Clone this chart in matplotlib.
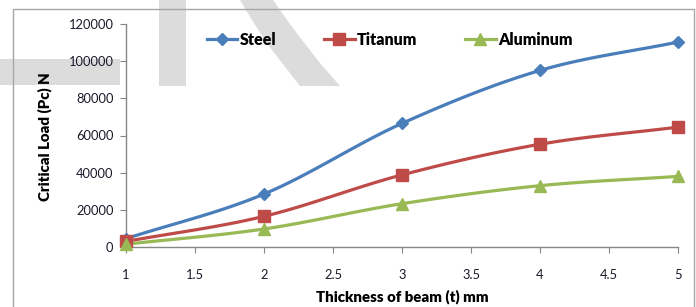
import numpy as np
import matplotlib
matplotlib.use("Agg")
import matplotlib.pyplot as plt
from matplotlib.patches import Rectangle, Polygon

# ---- data ----
thickness = [1, 2, 3, 4, 5]
steel = [4500, 28500, 66500, 95000, 110300]
titanum = [3000, 16500, 38800, 55300, 64500]
aluminum = [1500, 9700, 23300, 33000, 38000]
series_names = ["Steel", "Titanum", "Aluminum"]
x_ticks = [1, 1.5, 2, 2.5, 3, 3.5, 4, 4.5, 5]
y_ticks = [0, 20000, 40000, 60000, 80000, 100000, 120000]

W, H = 696, 307
FONT = ["Lato", "DejaVu Sans"]
plt.rcParams["font.family"] = FONT

def smooth(x, y, n=30):
    x = np.asarray(x, float); y = np.asarray(y, float)
    px = np.concatenate([[2 * x[0] - x[1]], x, [2 * x[-1] - x[-2]]])
    py = np.concatenate([[2 * y[0] - y[1]], y, [2 * y[-1] - y[-2]]])
    xs, ys = [], []
    for i in range(1, len(px) - 2):
        t = np.linspace(0, 1, n, endpoint=(i == len(px) - 3))
        for arr, out in ((px, xs), (py, ys)):
            p0, p1, p2, p3 = arr[i - 1], arr[i], arr[i + 1], arr[i + 2]
            out.append(0.5 * ((2 * p1) + (-p0 + p2) * t + (2 * p0 - 5 * p1 + 4 * p2 - p3) * t ** 2
                              + (-p0 + 3 * p1 - 3 * p2 + p3) * t ** 3))
    return np.concatenate(xs), np.concatenate(ys)

fig = plt.figure(figsize=(W / 100, H / 100), dpi=100)

def fx(px):
    return px / W

def fy(py):
    return 1 - py / H

# watermark shapes (figure coords)
wm = "#dcdcdc"
fig.patches.append(Rectangle((fx(0), fy(85)), fx(120), (85 - 59) / H, transform=fig.transFigure,
                             facecolor=wm, edgecolor="none", zorder=0))
fig.patches.append(Rectangle((fx(159), fy(86)), fx(186) - fx(159), 86 / H, transform=fig.transFigure,
                             facecolor=wm, edgecolor="none", zorder=0))
left_edge = [(240, 0), (252, 20), (266, 42), (282, 63), (300, 86)]
right_edge = [(340, 86), (320, 63), (302, 40), (287, 20), (273, 0)]
poly = [(fx(a), fy(b)) for a, b in left_edge + right_edge]
fig.patches.append(Polygon(poly, closed=True, transform=fig.transFigure,
                           facecolor=wm, edgecolor="none", zorder=0))
# outer border
fig.patches.append(Rectangle((fx(13), fy(320)), fx(694) - fx(13), (320 - 9) / H, transform=fig.transFigure,
                             facecolor="none", edgecolor="#a6a6a6", linewidth=1.0, zorder=1))

ax = fig.add_axes([126 / W, 1 - 247 / H, (678 - 126) / W, (247 - 24) / H])
ax.patch.set_alpha(0)
ax.set_zorder(3)

colors = ["#4A7EBB", "#BE4B48", "#98B954"]
markers = ["D", "s", "^"]
msizes = [6.5, 8, 8]
for name, vals, c, m, ms in zip(series_names, [steel, titanum, aluminum], colors, markers, msizes):
    sx, sy = smooth(thickness, vals)
    ax.plot(sx, sy, color=c, lw=2.3, clip_on=False, zorder=3)
    ax.plot(thickness, vals, linestyle="none", marker=m, markersize=ms, color=c, clip_on=False, zorder=4)
    ax.plot([], [], color=c, lw=2.3, marker=m, markersize=ms, label=name)

ax.set_xlim(1, 5)
ax.set_ylim(0, 120000)
ax.set_xticks(x_ticks)
ax.set_xticklabels([f"{v:g}" for v in x_ticks])
ax.set_yticks(y_ticks)
ax.set_yticklabels([str(v) for v in y_ticks])
for s in ["top", "right"]:
    ax.spines[s].set_visible(False)
for s in ["left", "bottom"]:
    ax.spines[s].set_color("#868686")
    ax.spines[s].set_linewidth(1.0)
ax.tick_params(axis="both", direction="out", length=4, color="#868686", labelsize=9.3, labelcolor="#1a1a2a")
ax.tick_params(axis="x", pad=12)
ax.tick_params(axis="y", pad=5)

fig.text(45 / W, 1 - 137 / H, "Critical Load (Pc) N", rotation=90, ha="center", va="center",
         fontsize=10.8, fontweight="heavy", zorder=5)
fig.text(402 / W, 1 - 297 / H, "Thickness of beam (t) mm", ha="center", va="center",
         fontsize=10.8, fontweight="heavy", zorder=5)

leg = fig.legend(loc="center left", bbox_to_anchor=(207 / W, 1 - 40 / H), ncol=3, frameon=False,
                 prop={"family": FONT, "weight": "heavy", "size": 11.5}, handlelength=1.9,
                 handletextpad=0.15, columnspacing=3.0, borderpad=0, borderaxespad=0)
leg.set_zorder(5)

fig.savefig("out.png", dpi=100)
